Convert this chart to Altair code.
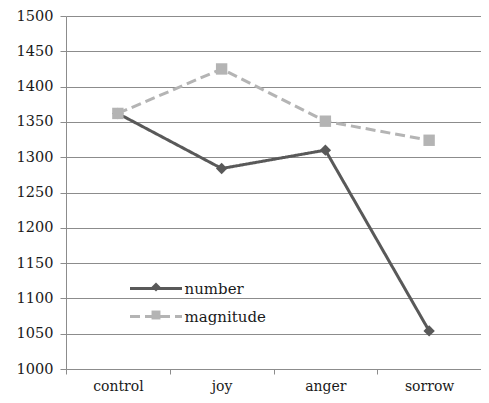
import altair as alt
import pandas as pd

categories = ["control", "joy", "anger", "sorrow"]
number = [1362, 1284, 1310, 1054]
magnitude = [1362, 1425, 1351, 1324]
series_names = ["number", "magnitude"]
marker_names = ["number marker", "magnitude marker"]
series_colors = ["#595959", "#b4b4b4"]
series_dash = [[1, 0], [10, 5]]
series_shapes = ["diamond", "square"]
y_ticks = list(range(1000, 1501, 50))

rows = []
for s, m, vals in zip(series_names, marker_names, [number, magnitude]):
    for i, (c, v) in enumerate(zip(categories, vals)):
        rows.append({"category": c, "idx": i, "value": v, "series": s, "marker": m})
df = pd.DataFrame(rows)

FONT = "DejaVu Serif"
GRID = "#8c8c8c"

x = alt.X(
    "category:N",
    sort=categories,
    title=None,
    bandPosition=0.5,
    scale=alt.Scale(type="band", paddingInner=0, paddingOuter=0),
    axis=alt.Axis(
        tickBand="extent", labelAngle=0, labelFont=FONT, labelFontSize=14,
        labelColor="#1a1a1a", labelPadding=5, tickSize=5, tickColor=GRID,
        domainColor=GRID, grid=False,
    ),
)
y = alt.Y(
    "value:Q",
    title=None,
    scale=alt.Scale(domain=[1000, 1500], nice=False, zero=False),
    axis=alt.Axis(
        values=y_ticks, format="d", labelFont=FONT, labelFontSize=14.5,
        labelColor="#1a1a1a", labelPadding=7, tickSize=6, tickColor=GRID,
        domainColor=GRID, gridColor=GRID, grid=True,
    ),
)

line_legend = alt.Legend(
    orient="none", legendX=78.5, legendY=261, title=None, padding=0,
    symbolType="M-2.6,0H2.6", symbolSize=400, symbolStrokeWidth=3,
    labelFont=FONT, labelFontSize=15, labelColor="#1a1a1a", labelOffset=17,
    rowPadding=8, zindex=1,
)
point_legend = alt.Legend(
    orient="none", legendX=83, legendY=264, title=None, padding=0,
    symbolSize=80, symbolStrokeWidth=0, labelExpr="''", labelFontSize=14,
    rowPadding=14, zindex=2,
)

lines = alt.Chart(df).mark_line(strokeWidth=3).encode(
    x=x,
    y=y,
    stroke=alt.Stroke("series:N", scale=alt.Scale(domain=series_names, range=series_colors), legend=line_legend),
    strokeDash=alt.StrokeDash("series:N", scale=alt.Scale(domain=series_names, range=series_dash), legend=line_legend),
    order=alt.Order("idx:Q"),
)

points = alt.Chart(df).mark_point(filled=True, size=130, opacity=1).encode(
    x=x,
    y=y,
    fill=alt.Fill("marker:N", scale=alt.Scale(domain=marker_names, range=series_colors), legend=point_legend),
    shape=alt.Shape("marker:N", scale=alt.Scale(domain=marker_names, range=series_shapes), legend=point_legend),
)

chart = alt.layer(lines, points).properties(
    width=415,
    height=353,
    autosize=alt.AutoSizeParams(type="none"),
    padding={"left": 58, "top": 8, "right": 0, "bottom": 26},
).configure_view(stroke="transparent")

chart.save("out.html", embed_options={"renderer": "svg", "actions": False})
